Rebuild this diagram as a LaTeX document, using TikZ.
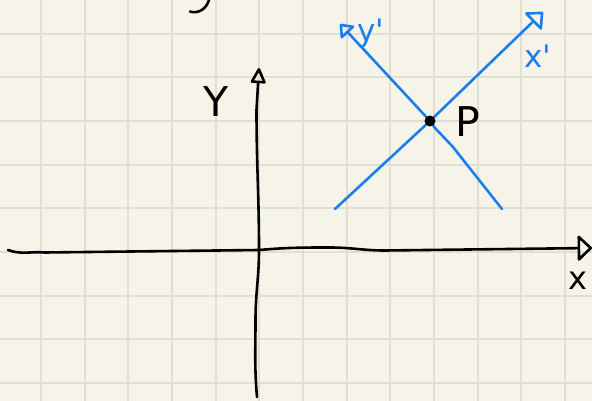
\documentclass[tikz,border=0pt]{standalone}
\usepackage{fontspec}
\newfontfamily\handfont{DejaVu Sans}
\usetikzlibrary{arrows.meta}

\definecolor{paperbg}{RGB}{246,244,233}
\definecolor{paperline}{RGB}{225,223,211}
\definecolor{penblue}{RGB}{26,127,236}

\pgfdeclarelayer{sheet}
\pgfdeclarelayer{under}
\pgfsetlayers{sheet,under,main}

\begin{document}
\begin{tikzpicture}[
    x=1pt, y=-1pt,
    paper/.style={draw=paperline, line width=1.8pt},
    ink/.style={draw=black, line width=2.6pt, line cap=round, line join=round},
    blueink/.style={draw=penblue, line width=2.6pt, line cap=round, line join=round},
    lbl/.style={inner sep=0pt, font=\handfont\fontsize{41}{41}\selectfont},
    bluelbl/.style={inner sep=0pt, text=penblue, font=\handfont\fontsize{31}{31}\selectfont},
    dot/.style={circle, fill=black, inner sep=0pt, minimum size=11pt},
    xtip/.style={-{Triangle[open, length=15pt, width=28pt, round]}},
    ytip/.style={-{Triangle[open, length=17pt, width=16pt, round]}},
    xptip/.style={-{Triangle[open, length=15pt, width=26pt, round]}},
    yptip/.style={-{Triangle[open, length=13pt, width=20pt, round]}}]

  \begin{pgfonlayer}{sheet}
    \path[use as bounding box, fill=paperbg] (0,0) rectangle (592,401);
    % squared paper
    \foreach \i in {0,...,12}
      \draw[paper] ({41+43.67*\i},0) -- ({41+43.67*\i},401);
    \foreach \j in {0,...,8}
      \draw[paper] (0,{33.7+43.67*\j}) -- (592,{33.7+43.67*\j});
  \end{pgfonlayer}
  \clip (0,0) rectangle (592,401);

  % end of a letter cut off by the page
  \draw[ink] (190,11.5) .. controls (197,14) and (206,10) .. (209,0);

  % x, y axes
  \coordinate (O) at (259,250);
  \coordinate (xl) at (8,250);
  \coordinate (xr) at (592,248);
  \coordinate (yb) at (257,397);
  \coordinate (yt) at (259,68);
  \draw[ink, xtip] (xl) to[out=-20, in=175] (45,252.5) -- (O)
    to[out=5, in=180] (330,247.5) to[out=0, in=180] (385,250.5) -- (xr);
  \draw[ink, ytip] (yb) to[out=95, in=-90] (255.5,320)
    to[out=90, in=-90] (O) to[out=90, in=-90] (256.5,110) -- (yt);

  \node[lbl] (ylbl) at (216,102) {Y};
  \node[lbl, font=\handfont\fontsize{32}{32}\selectfont] (xlbl) at (578,281) {x};

  % point P and the rotated axes through it
  \node[dot] (P) at (430,121) {};
  \node[lbl] (Plbl) at (468,122) {P};

  \coordinate (xps) at (335,209);
  \coordinate (xpe) at (543,12);
  \coordinate (yps) at (502,209);
  \coordinate (ype) at (340,24);
  \begin{pgfonlayer}{under}
    \draw[blueink, xptip] (xps) -- (P.center) -- (xpe);
    \draw[blueink, yptip] (yps) -- (453,147) -- (435,128) -- (P.center)
      -- (367,53) -- (ype);
  \end{pgfonlayer}

  \node[bluelbl] (xplbl) at (538,56) {x'};
  \node[bluelbl] (yplbl) at (371,33) {y'};
\end{tikzpicture}
\end{document}
